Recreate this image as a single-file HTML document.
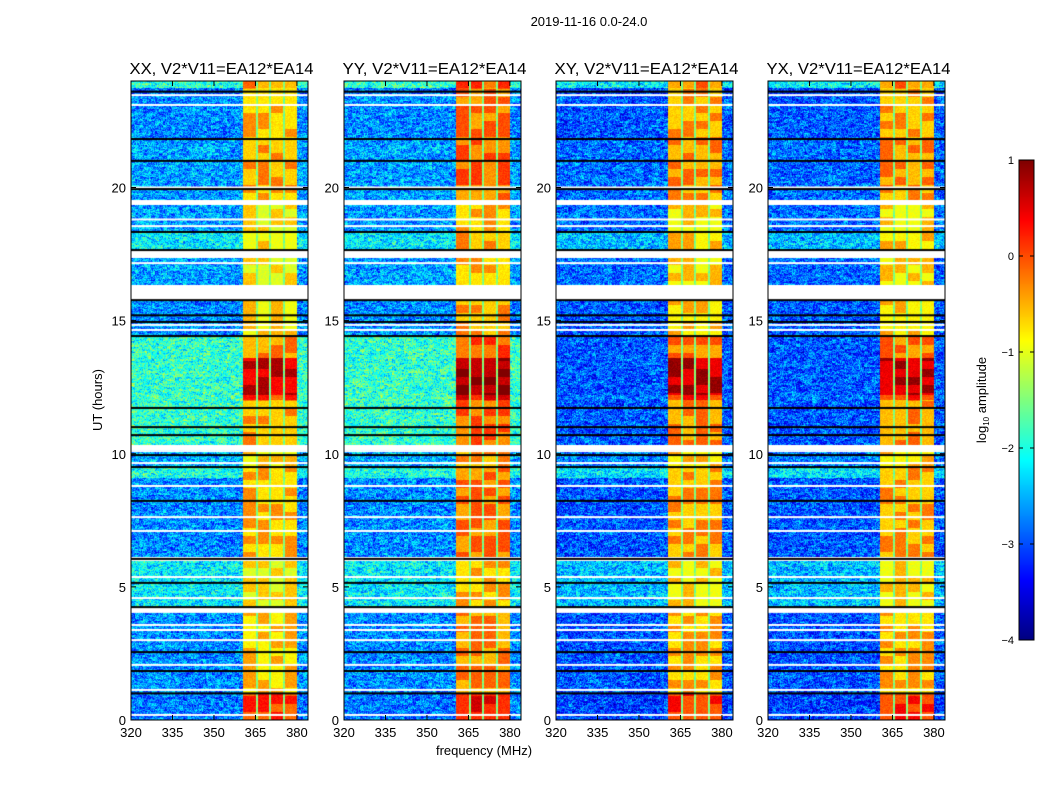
<!DOCTYPE html>
<html><head><meta charset="utf-8">
<style>
html,body{margin:0;padding:0;background:#fff;}
#wrap{position:relative;width:1050px;height:800px;font-family:"Liberation Sans",sans-serif;}
canvas{position:absolute;left:0;top:0;}
svg{position:absolute;left:0;top:0;}
</style></head>
<body>
<div id="wrap">
<canvas id="cv" width="1050" height="800"></canvas>
<svg id="sv" width="1050" height="800"></svg>
</div>
<script>
// ---- data ----
const panelTitles = ["XX, V2*V11=EA12*EA14","YY, V2*V11=EA12*EA14","XY, V2*V11=EA12*EA14","YX, V2*V11=EA12*EA14"];
const xTicks = [320,335,350,365,380];
const yTicks = [0,5,10,15,20];
const cbTicks = [1,0,-1,-2,-3,-4];
// time segments: start hour, end hour, background log amp, RFI log amp
const segStart = [0,0.98,4.2,6.12,9.09,9.5,10.33,12.02,12.2,13.6,14.42,16.34,17.65,18.33,19.53,20.06,21.86,23.47,23.74];
const segEnd   = [0.98,4.06,5.97,9.09,9.5,10.14,12.02,12.2,13.6,14.42,15.77,17.35,18.33,19.34,20.06,21.86,23.47,23.74,24];
const segBg    = [-2.8,-2.7,-2.2,-2.7,-2.0,-2.5,-1.9,-1.8,-1.9,-1.9,-2.7,-2.6,-2.2,-2.6,-2.6,-2.6,-2.7,-2.8,-1.9];
const segRfi   = [0.0,-0.7,-0.9,-0.6,-0.6,-0.8,-0.5,0.0,0.5,-0.4,-0.8,-0.9,-0.8,-0.9,-0.6,-0.5,-0.6,-0.6,-0.4];
// RFI channel blocks (MHz)
const rfiStart = [360.4,365.8,370.5,375.6];
const rfiEnd   = [365.1,369.8,374.9,380.0];
// flagged lines (hours)
const blackLines = [23.6,21.82,21.0,19.94,18.33,17.65,15.77,15.2,14.95,14.42,11.72,11.0,10.7,9.95,9.5,8.23,6.05,5.15,4.24,2.55,1.84,1.0];
const whiteLines = [23.47,23.1,20.0,18.8,18.55,17.46,17.16,14.84,14.65,10.1,9.65,8.79,7.62,7.1,5.37,4.58,4.06,3.57,3.38,3.0,2.07,1.13,0.19];
// per-panel modifiers
const panelBgShift  = [0,0,-0.25,-0.25];
const panelRfiShift = [0,0.3,0.1,0.1];
const panelMidShift = [0,0,-0.8,-0.8];

// ---- layout ----
const panelX = [131,344,556,768];
const PW = 177, PT = 81, PB = 720;
const fMin = 320, fMax = 384, hMin = 0, hMax = 24;
const xScale = (f,p)=> panelX[p] + (f-fMin)/(fMax-fMin)*PW;
const yScale = h => PB - (h-hMin)/(hMax-hMin)*(PB-PT);
const CBX=1019, CBW=15, CBT=160, CBB=640;
const cbScale = v => CBT + (1-v)/5*(CBB-CBT);

function jet(t){t=Math.max(0,Math.min(1,t));
  const c=x=>Math.max(0,Math.min(1,x));
  return [c(1.5-Math.abs(4*t-3))*255,c(1.5-Math.abs(4*t-2))*255,c(1.5-Math.abs(4*t-1))*255];}
function hsh(a,b){let n=(a*374761393+b*668265263)|0;n=(n^(n>>>13))*1274126177|0;return ((n^(n>>>16))>>>0)/4294967296;}

const cv=document.getElementById('cv'),ctx=cv.getContext('2d');
ctx.fillStyle='#fff';ctx.fillRect(0,0,1050,800);
const H=PB-PT;
for(let p=0;p<4;p++){
  const img=ctx.createImageData(PW,H);
  for(let y=0;y<H;y++){
    const h=hMax-(y+0.5)/H*(hMax-hMin);
    let s=-1;for(let i=0;i<segStart.length;i++){if(h>=segStart[i]&&h<segEnd[i]){s=i;break;}}
    if(s<0)continue;
    let bg=segBg[s]+panelBgShift[p]+((h>10.33&&h<14.42)?panelMidShift[p]:0);
    const rf=segRfi[s]+panelRfiShift[p];
    for(let x=0;x<PW;x++){
      const f=fMin+(x+0.5)/PW*(fMax-fMin);
      const n=(hsh(x+p*1000,y)*0.6+hsh((x>>2)+p*99,y>>1)*0.4);
      let v=bg+(n-0.5)*1.7;
      let col=-1;for(let k=0;k<rfiStart.length;k++){if(f>=rfiStart[k]&&f<rfiEnd[k]){col=k;break;}}
      if(col>=0){
        const band=Math.floor(h/0.3);
        const m=hsh(band*7+col,p+3);
        v=rf+(m>0.55?0.3:-0.15)+(hsh(x,y+7)-0.5)*0.25;
      }else if(f>rfiStart[0]&&f<rfiEnd[3]){v=-1.5+(n-0.5)*0.6;}
      const c=jet((v+4)/5),o=(y*PW+x)*4;
      img.data[o]=c[0];img.data[o+1]=c[1];img.data[o+2]=c[2];img.data[o+3]=255;
    }
  }
  ctx.putImageData(img,panelX[p],PT);
  ctx.fillStyle='#fff';
  whiteLines.forEach(h=>ctx.fillRect(panelX[p],yScale(h)-1,PW,2));
  ctx.fillStyle='#000';
  blackLines.forEach(h=>ctx.fillRect(panelX[p],yScale(h)-1,PW,2));
}
// colorbar
for(let y=CBT;y<CBB;y++){const v=1-(y-CBT)/(CBB-CBT)*5;const c=jet((v+4)/5);
  ctx.fillStyle=`rgb(${c[0]|0},${c[1]|0},${c[2]|0})`;ctx.fillRect(CBX,y,CBW,1);}

// ---- svg overlay ----
const sv=document.getElementById('sv');const NS='http://www.w3.org/2000/svg';
function mk(tag,attrs,text){const e=document.createElementNS(NS,tag);for(const k in attrs)e.setAttribute(k,attrs[k]);if(text!==undefined)e.textContent=text;sv.appendChild(e);return e;}
let t=mk('text',{x:589,y:26,'font-size':13,'text-anchor':'middle'},'2019-11-16 0.0-24.0');


for(let p=0;p<4;p++){
  const x0=panelX[p];
  let r=mk('rect',{x:x0,y:PT,width:PW,height:H,fill:'none',stroke:'#000','stroke-width':1});
  
  
  t=mk('text',{x:x0+PW/2+2,y:74,'font-size':16,'text-anchor':'middle',textLength:184,lengthAdjust:'spacingAndGlyphs'},panelTitles[p]);
  
  
  xTicks.forEach(v=>{const x=xScale(v,p);
    mk('line',{x1:x,x2:x,y1:PB,y2:PB-5,stroke:'#000'});mk('line',{x1:x,x2:x,y1:PT,y2:PT+5,stroke:'#000'});
    const e=mk('text',{x:x,y:PB+17,'font-size':13,'text-anchor':'middle'},String(v));
    
    });
  yTicks.forEach(v=>{const y=yScale(v);
    mk('line',{x1:x0,x2:x0+5,y1:y,y2:y,stroke:'#000'});mk('line',{x1:x0+PW,x2:x0+PW-5,y1:y,y2:y,stroke:'#000'});
    const e=mk('text',{x:x0-5,y:y+5,'font-size':13,'text-anchor':'end'},String(v));
    
    });
}
t=mk('text',{x:102,y:400,'font-size':13,'text-anchor':'middle',transform:'rotate(-90 102 400)'},'UT (hours)');


t=mk('text',{x:484,y:755,'font-size':13,'text-anchor':'middle'},'frequency (MHz)');


let cb=mk('rect',{x:CBX,y:CBT,width:CBW,height:CBB-CBT,fill:'none',stroke:'#000'});


cbTicks.forEach(v=>{const y=cbScale(v);
  mk('line',{x1:CBX,x2:CBX+4,y1:y,y2:y,stroke:'#000'});mk('line',{x1:CBX+CBW,x2:CBX+CBW-4,y1:y,y2:y,stroke:'#000'});
  const e=mk('text',{x:CBX-5,y:y+4,'font-size':11,'text-anchor':'end'},v<0?'\u2212'+(-v):String(v));
  
  });
t=mk('text',{x:986,y:400,'font-size':13,'text-anchor':'middle',transform:'rotate(-90 986 400)'});


const a=document.createElementNS(NS,'tspan');a.textContent='log';t.appendChild(a);
const b=document.createElementNS(NS,'tspan');b.setAttribute('font-size','8');b.setAttribute('dy','3');b.textContent='10';t.appendChild(b);
const c2=document.createElementNS(NS,'tspan');c2.setAttribute('dy','-3');c2.textContent=' amplitude';t.appendChild(c2);
</script>
</body></html>
